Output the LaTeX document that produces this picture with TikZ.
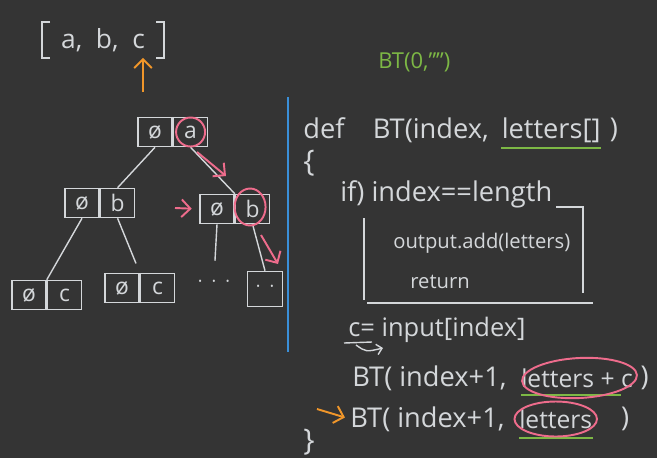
\documentclass[tikz,border=0pt]{standalone}
\usepackage{fontspec}
\setmainfont{Open Sans}
\usetikzlibrary{arrows.meta,positioning,shapes.geometric}
\definecolor{BTBoard}{HTML}{343434}
\definecolor{BTChalk}{HTML}{D4D7DA}
\definecolor{BTPink}{HTML}{EE6C8C}
\definecolor{BTGreen}{HTML}{7DB845}
\definecolor{BTOrange}{HTML}{F0962A}
\definecolor{BTBlue}{HTML}{3A8FD8}
\tikzset{
  btcell/.style={
    draw=BTChalk,
    line width=0.9pt,
    minimum width=0.68cm,
    minimum height=0.58cm,
    inner sep=0pt,
    text=BTChalk,
    font=\fontsize{13}{15}\selectfont
  },
  btcode/.style={
    anchor=west,
    inner sep=0pt,
    text=BTChalk,
    font=\fontsize{15.5}{17}\selectfont
  },
  btsmall/.style={btcode,font=\fontsize{11.5}{13}\selectfont},
  btarg/.style={btcode,font=\fontsize{14}{16}\selectfont},
  btring/.style={ellipse,draw=BTPink,line width=1.1pt,inner sep=0pt},
  btedge/.style={draw=BTChalk,line width=0.8pt},
  btflow/.style={-{Straight Barb[length=5pt]},draw=BTPink,line width=1.1pt},
  btpoint/.style={-{Straight Barb[length=5pt]},draw=BTOrange,line width=1.1pt},
  btunder/.style={draw=BTGreen,line width=1.2pt}
}

\begin{document}
\begin{tikzpicture}[x=0.02cm,y=-0.02cm]
  \fill[BTBoard] (0,0) rectangle (657,458);
  \useasboundingbox (0,0) rectangle (657,458);

  % input letters
  \node[text=BTChalk,font=\fontsize{15}{17}\selectfont] (letters) at (103,40) {a,\ \ b,\ \ c};
  \draw[btedge] (50,22) -- (42,22) -- (42,58) -- (50,58);
  \draw[btedge] (156,22) -- (164,22) -- (164,58) -- (156,58);
  \coordinate (up) at (143,92);
  \draw[btpoint] (up) -- (up |- letters.south);
  \node[anchor=west,inner sep=0pt,text=BTGreen,font=\fontsize{12.5}{14}\selectfont] (start) at (378,62) {BT(0,\char34\char34)};

  % tree
  \node[btcell] (rootnull) at (155,132) {ø};
  \node[btcell,right=0pt of rootnull] (roota) {a};
  \node[btcell] (lbnull) at (82,203) {ø};
  \node[btcell,right=0pt of lbnull] (lbb) {b};
  \node[btcell] (rbnull) at (217,209) {ø};
  \node[btcell,right=0pt of rbnull] (rbb) {b};
  \node[btcell] (lcnull) at (29,295) {ø};
  \node[btcell,right=0pt of lcnull] (lcc) {c};
  \node[btcell] (mcnull) at (122,288) {ø};
  \node[btcell,right=0pt of mcnull] (mcc) {c};
  \node[text=BTChalk,inner sep=1pt,font=\fontsize{10}{12}\selectfont] (dots) at (214,284) {·\ \ ·\ \ ·};
  \node[btcell,minimum width=0.7cm,minimum height=0.7cm,font=\fontsize{10}{12}\selectfont] (rest) at (265,289) {·\ \ ·};
  \draw[btedge] (rootnull.south) -- (lbb.north);
  \draw[btedge] (roota.south) -- (rbnull.north east);
  \draw[btedge] (lbnull.south) -- (lcc.north west);
  \draw[btedge,shorten >=0.2cm] (lbb.south) -- (mcc.north west);
  \draw[btedge,shorten >=0.35cm] (rbnull.south) -- (dots.north);
  \draw[btedge] (rbb.south) -- (rest.north);

  % path marks
  \draw[btring] (roota) circle[radius=0.29cm];
  \node[btring,minimum width=0.62cm,minimum height=0.74cm] (ringb) at ([xshift=-0.05cm,yshift=0.04cm]rbb.center) {};
  \coordinate (fromA) at (197,152);
  \coordinate (toB) at (226,176);
  \coordinate (sideB) at (175,208);
  \coordinate (fromB) at (261,235);
  \coordinate (toRest) at (278,264);
  \draw[btflow] (fromA) -- (toB);
  \draw[btflow,shorten >=0.15cm] (sideB) -- (rbnull.west);
  \draw[btflow] (fromB) -- (toRest);

  \draw[BTBlue,line width=1.4pt] (288,97) -- (288,352);

  % code
  \node[btcode] (defline) at (303,130) {def\ \ \ \ BT(index,};
  \node[btcode,right=7pt of defline] (param) {letters[]};
  \node[btcode,right=5pt of param] (defclose) {)};
  \node[btcode,font=\fontsize{17}{19}\selectfont] (openbrace) at (303,163) {\{};
  \node[btcode] (ifline) at (340,194) {if) index==length};
  \node[btsmall] (outline) at (393,243) {output.add(letters)};
  \node[btsmall] (retline) at (410,282) {return};
  \node[btcode,font=\fontsize{14.5}{16}\selectfont] (cline) at (348,330) {c= input[index]};
  \node[btcode] (callone) at (352,378) {BT( index+1,};
  \node[btarg,right=8pt of callone] (letplus) {letters + c};
  \node[btcode,right=4pt of letplus] (closeone) {)};
  \node[btcode] (calltwo) at (350,419) {BT( index+1,};
  \node[btarg,right=8pt of calltwo] (letonly) {letters};
  \node[btcode,right=16pt of letonly] (closetwo) {)};
  \node[btcode,font=\fontsize{17}{19}\selectfont] (closebrace) at (303,442) {\}};

  \draw[btedge] (556,207) -- (583,207) -- (583,293);
  \draw[btedge] (364,218) -- (364,300);
  \draw[btedge] (367,303) -- (593,303);
  \draw[btedge] (344,343) -- (372,342);
  \draw[btedge,-{Straight Barb[length=3pt]}] (356,345) .. controls (366,352) .. (383,348);

  \draw[btunder] ([yshift=-3pt]param.south west) -- ([yshift=-3pt]param.south east);
  \draw[btunder] ([yshift=-4pt]letplus.south west) -- ([xshift=-7pt,yshift=-4pt]letplus.south east);
  \draw[btunder] ([yshift=-5pt]letonly.south west) -- ([yshift=-5pt]letonly.south east);
  \node[btring,minimum width=2.3cm,minimum height=0.8cm,rotate=3] (ringone) at ([xshift=0.05cm]letplus.center) {};
  \node[btring,minimum width=1.65cm,minimum height=0.7cm] (ringtwo) at (letonly.center) {};
  \coordinate (here) at (317,409);
  \draw[btpoint,shorten >=3pt] (here) -- (calltwo.west);
\end{tikzpicture}
\end{document}
